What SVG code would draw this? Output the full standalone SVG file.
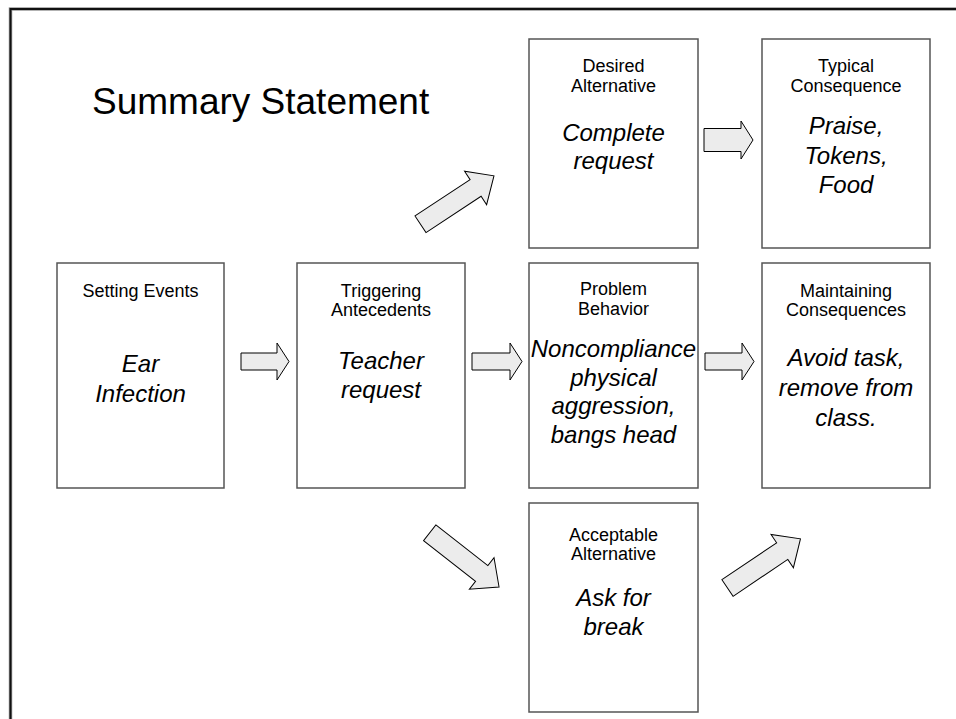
<svg xmlns="http://www.w3.org/2000/svg" width="956" height="719" viewBox="0 0 956 719">
<defs>
<style>
.box{fill:#fff;stroke:#555;stroke-width:1.5}
.hd{font-family:"Liberation Sans",Arial,sans-serif;font-size:18px;fill:#000;text-anchor:middle}
.it{font-family:"Liberation Sans",Arial,sans-serif;font-size:24px;font-style:italic;fill:#000;text-anchor:middle}
.arr{fill:#ececec;stroke:#000;stroke-width:1}
</style>
<path id="darr" d="M0,-10 H66 V-20 L88,0 L66,20 V10 H0 Z"/>
</defs>
<rect width="956" height="719" fill="#fff"/>
<path d="M10.5,719 V9 H956" fill="none" stroke="#999" stroke-width="3.5"/>
<path d="M10.5,719 V9 H956" fill="none" stroke="#111" stroke-width="2"/>
<text x="92" y="114" font-family="Liberation Sans, Arial, sans-serif" font-size="37" fill="#000">Summary Statement</text>

<g id="setting-events">
<rect class="box" x="57" y="263" width="167" height="225"/>
<text class="hd" x="140.5" y="297">Setting Events</text>
<text class="it" x="140.5" y="372">Ear</text>
<text class="it" x="140.5" y="402">Infection</text>
</g>
<g id="triggering-antecedents">
<rect class="box" x="297" y="263" width="168" height="225"/>
<text class="hd" x="381" y="297">Triggering</text>
<text class="hd" x="381" y="316">Antecedents</text>
<text class="it" x="381" y="369">Teacher</text>
<text class="it" x="381" y="398">request</text>
</g>
<g id="problem-behavior">
<rect class="box" x="529" y="263" width="169" height="225"/>
<text class="hd" x="613.5" y="295">Problem</text>
<text class="hd" x="613.5" y="315">Behavior</text>
<text class="it" x="613.5" y="357">Noncompliance</text>
<text class="it" x="613.5" y="385.7">physical</text>
<text class="it" x="613.5" y="414.3">aggression,</text>
<text class="it" x="613.5" y="443">bangs head</text>
</g>
<g id="maintaining-consequences">
<rect class="box" x="762" y="263" width="168" height="225"/>
<text class="hd" x="846" y="297">Maintaining</text>
<text class="hd" x="846" y="316">Consequences</text>
<text class="it" x="846" y="366">Avoid task,</text>
<text class="it" x="846" y="396">remove from</text>
<text class="it" x="846" y="426">class.</text>
</g>
<g id="desired-alternative">
<rect class="box" x="529" y="39" width="169" height="209"/>
<text class="hd" x="613.5" y="72">Desired</text>
<text class="hd" x="613.5" y="92">Alternative</text>
<text class="it" x="613.5" y="141">Complete</text>
<text class="it" x="613.5" y="169">request</text>
</g>
<g id="typical-consequence">
<rect class="box" x="762" y="39" width="168" height="209"/>
<text class="hd" x="846" y="72">Typical</text>
<text class="hd" x="846" y="92">Consequence</text>
<text class="it" x="846" y="134">Praise,</text>
<text class="it" x="846" y="164">Tokens,</text>
<text class="it" x="846" y="193">Food</text>
</g>
<g id="acceptable-alternative">
<rect class="box" x="529" y="503" width="169" height="209"/>
<text class="hd" x="613.5" y="541">Acceptable</text>
<text class="hd" x="613.5" y="560">Alternative</text>
<text class="it" x="613.5" y="606">Ask for</text>
<text class="it" x="613.5" y="635">break</text>
</g>

<g id="connectors">
<path class="arr" d="M241,353 H277 V343 L289,361.5 L277,380 V370 H241 Z"/>
<path class="arr" d="M472,353 H510 V343 L522,361.5 L510,380 V370 H472 Z"/>
<path class="arr" d="M705,353 H742 V343 L754,361.5 L742,380 V370 H705 Z"/>
<path class="arr" d="M704,128.5 H741 V121 L753,140 L741,159 V151.5 H704 Z"/>
<use href="#darr" class="arr" transform="translate(420.5,224.3) rotate(-33.4)"/>
<use href="#darr" class="arr" transform="translate(429.7,532.8) rotate(38)"/>
<use href="#darr" class="arr" transform="translate(727.5,588) rotate(-34)"/>
</g>
</svg>
